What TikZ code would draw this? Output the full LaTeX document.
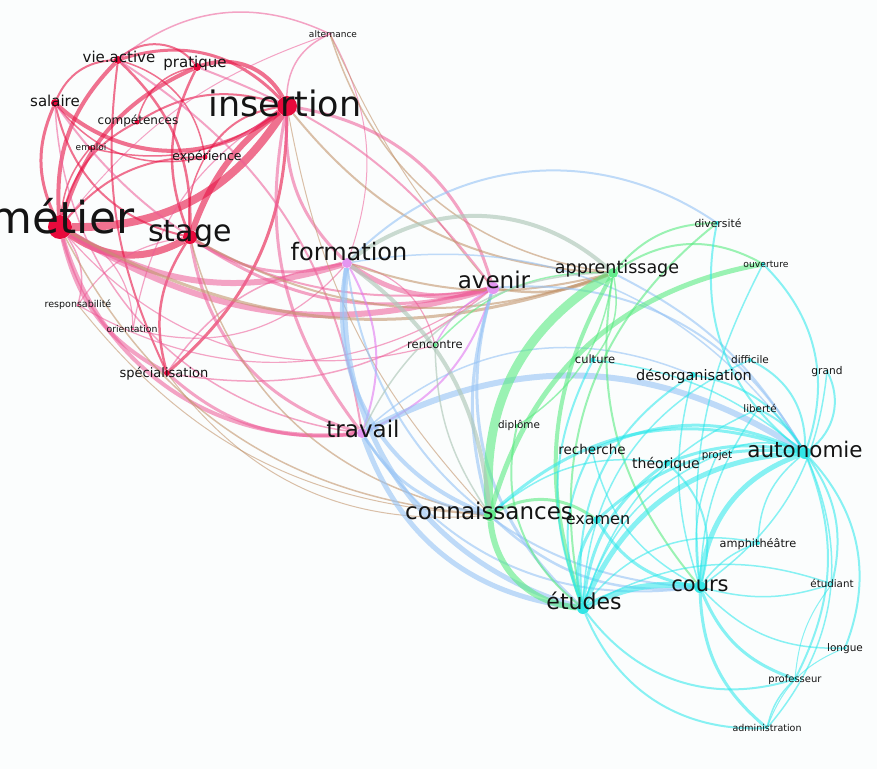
\documentclass[tikz,border=0pt]{standalone}
\usepackage{fontspec}
\setmainfont{DejaVu Sans}
\definecolor{cR}{RGB}{232,20,70}
\definecolor{cP}{RGB}{238,90,150}
\definecolor{cT}{RGB}{195,150,110}
\definecolor{cB}{RGB}{150,195,245}
\definecolor{cC}{RGB}{40,232,235}
\definecolor{cG}{RGB}{90,235,130}
\definecolor{cGG}{RGB}{175,200,185}
\definecolor{cV}{RGB}{225,120,240}
\definecolor{dR}{RGB}{232,10,60}
\definecolor{dV}{RGB}{228,150,240}
\definecolor{dG}{RGB}{100,235,140}
\definecolor{dC}{RGB}{50,230,230}
\definecolor{bgc}{RGB}{251,253,253}
\pgfdeclarelayer{bgl}\pgfdeclarelayer{edges}
\pgfsetlayers{bgl,edges,main}
\tikzset{
  eR/.style={draw=cR,draw opacity=.6},
  eP/.style={draw=cP,draw opacity=.55},
  eT/.style={draw=cT,draw opacity=.6},
  eB/.style={draw=cB,draw opacity=.6},
  eC/.style={draw=cC,draw opacity=.55},
  eG/.style={draw=cG,draw opacity=.6},
  eGG/.style={draw=cGG,draw opacity=.65},
  eV/.style={draw=cV,draw opacity=.6},
  dot/.style={circle,inner sep=0pt,minimum size=#1},
  lbl/.style={anchor=base,inner sep=0pt,text=black!92,font=\fontsize{#1}{#1}\selectfont}
}
\newcommand\gedge[5]{\pgfmathsetmacro\gbend{-1.6*(#5)}\draw[#1,line width=#2pt] (#3) to[bend left=\gbend] (#4);}
\begin{document}
\begin{tikzpicture}[x=1pt,y=-1pt]
\begin{pgfonlayer}{bgl}
\fill[bgc] (0,0) rectangle (877,769);
\end{pgfonlayer}
\useasboundingbox (0,0) rectangle (877,769);
% dots
\node[dot=24,fill=dR] (metier) at (60,227) {};
\node[dot=20,fill=dR] (insertion) at (287,106) {};
\node[dot=14,fill=dR] (stage) at (190,237) {};
\node[dot=8,fill=dR] (vieactive) at (118,60) {};
\node[dot=8,fill=dR] (pratique) at (197,67) {};
\node[dot=8,fill=dR] (salaire) at (55,103) {};
\node[dot=5,fill=dR] (competences) at (137,122) {};
\node[dot=4,fill=dR] (emploi) at (90,148) {};
\node[dot=5,fill=dR] (experience) at (205,157) {};
\node[dot=3,fill=cP] (alternance) at (330,34) {};
\node[dot=3,fill=cP] (responsabilite) at (78,305) {};
\node[dot=3,fill=cP] (orientation) at (133,329) {};
\node[dot=6,fill=dR] (specialisation) at (167,373) {};
\node[dot=10,fill=dV] (formation) at (347,263) {};
\node[dot=12,fill=dV] (avenir) at (493,288) {};
\node[dot=10,fill=dV] (travail) at (362,433) {};
\node[dot=4,fill=dG] (rencontre) at (435,345) {};
\node[dot=10,fill=dG] (apprentissage) at (613,273) {};
\node[dot=12,fill=dG] (connaissances) at (490,515) {};
\node[dot=4,fill=dG] (diplome) at (517,426) {};
\node[dot=4,fill=dC] (diversite) at (717,223) {};
\node[dot=4,fill=dC] (ouverture) at (763,264) {};
\node[dot=5,fill=dC] (culture) at (593,360) {};
\node[dot=6,fill=dC] (desorganisation) at (693,375) {};
\node[dot=4,fill=dC] (difficile) at (750,360) {};
\node[dot=3,fill=dC] (grand) at (827,371) {};
\node[dot=4,fill=dC] (liberte) at (758,409) {};
\node[dot=5,fill=dC] (recherche) at (592,450) {};
\node[dot=7,fill=dC] (theorique) at (667,463) {};
\node[dot=3,fill=dC] (projet) at (717,455) {};
\node[dot=12,fill=dC] (autonomie) at (805,453) {};
\node[dot=8,fill=dC] (examen) at (597,520) {};
\node[dot=4,fill=dC] (amphitheatre) at (758,543) {};
\node[dot=12,fill=dC] (cours) at (700,587) {};
\node[dot=3,fill=dC] (etudiant) at (832,584) {};
\node[dot=12,fill=dC] (etudes) at (583,608) {};
\node[dot=3,fill=dC] (longue) at (845,648) {};
\node[dot=4,fill=dC] (professeur) at (795,679) {};
\node[dot=3,fill=dC] (administration) at (767,728) {};
\begin{pgfonlayer}{edges}
% red cluster
\gedge{eR}{7}{metier}{stage}{20}
\gedge{eR}{8}{metier}{insertion}{18}
\gedge{eR}{6}{stage}{insertion}{-10}
\gedge{eR}{4}{vieactive}{metier}{15}
\gedge{eR}{4}{pratique}{metier}{15}
\gedge{eR}{3}{salaire}{metier}{15}
\gedge{eR}{3}{insertion}{vieactive}{20}
\gedge{eR}{4}{insertion}{pratique}{25}
\gedge{eR}{4}{salaire}{insertion}{25}
\gedge{eR}{2}{vieactive}{salaire}{20}
\gedge{eR}{2}{pratique}{vieactive}{30}
\gedge{eR}{2.5}{vieactive}{stage}{-15}
\gedge{eR}{2.5}{pratique}{stage}{15}
\gedge{eR}{2}{salaire}{stage}{20}
\gedge{eR}{2}{competences}{metier}{15}
\gedge{eR}{2}{competences}{insertion}{-15}
\gedge{eR}{1.5}{emploi}{insertion}{15}
\gedge{eR}{1.5}{emploi}{metier}{10}
\gedge{eR}{2}{experience}{insertion}{-15}
\gedge{eR}{2}{experience}{metier}{15}
\gedge{eR}{1.5}{experience}{stage}{10}
\gedge{eR}{1.5}{vieactive}{experience}{-20}
\gedge{eR}{1.5}{pratique}{competences}{20}
\gedge{eR}{1.5}{salaire}{experience}{20}
\gedge{eP}{1.5}{alternance}{vieactive}{20}
\gedge{eP}{1.5}{alternance}{insertion}{20}
\gedge{eP}{1}{alternance}{metier}{10}
\gedge{eP}{1}{alternance}{formation}{-15}
\gedge{eT}{1.5}{alternance}{apprentissage}{20}
\gedge{eT}{1}{alternance}{avenir}{5}
\gedge{eR}{3}{insertion}{specialisation}{-15}
\gedge{eR}{2.5}{stage}{specialisation}{15}
\gedge{eR}{2}{vieactive}{specialisation}{10}
\gedge{eP}{4}{metier}{specialisation}{15}
\gedge{eP}{4}{metier}{travail}{25}
\gedge{eP}{3}{specialisation}{travail}{15}
\gedge{eP}{3}{stage}{travail}{20}
\gedge{eP}{3}{insertion}{travail}{15}
\gedge{eP}{6}{metier}{formation}{15}
\gedge{eP}{6}{metier}{avenir}{15}
\gedge{eP}{3}{stage}{avenir}{15}
\gedge{eP}{3}{stage}{formation}{15}
\gedge{eP}{5}{formation}{avenir}{15}
\gedge{eP}{3}{insertion}{formation}{15}
\gedge{eP}{3}{insertion}{avenir}{-20}
\gedge{eP}{1.5}{responsabilite}{metier}{15}
\gedge{eP}{1.2}{responsabilite}{stage}{-15}
\gedge{eP}{1.2}{orientation}{metier}{20}
\gedge{eP}{1.2}{orientation}{insertion}{-15}
\gedge{eP}{1.2}{orientation}{formation}{20}
\gedge{eP}{1.2}{responsabilite}{avenir}{20}
\gedge{eP}{1.5}{specialisation}{formation}{-15}
\gedge{eP}{1.5}{specialisation}{avenir}{15}
\gedge{eP}{1.2}{rencontre}{formation}{20}
\gedge{eP}{1.2}{metier}{rencontre}{20}
\gedge{eP}{2}{vieactive}{travail}{-15}
\gedge{eP}{2}{pratique}{avenir}{-10}
\gedge{eP}{2}{salaire}{avenir}{20}
\gedge{eP}{1.5}{salaire}{travail}{25}
\gedge{eT}{3}{metier}{apprentissage}{15}
\gedge{eT}{2}{insertion}{apprentissage}{15}
\gedge{eT}{2}{stage}{apprentissage}{15}
\gedge{eT}{2}{formation}{apprentissage}{10}
\gedge{eT}{2.5}{avenir}{apprentissage}{10}
\gedge{eT}{1.5}{metier}{connaissances}{18}
\gedge{eT}{1.5}{stage}{connaissances}{20}
\gedge{eT}{1}{specialisation}{connaissances}{18}
\gedge{eT}{1}{insertion}{connaissances}{10}
\gedge{eT}{1}{responsabilite}{connaissances}{15}
\gedge{eV}{2}{travail}{avenir}{15}
\gedge{eV}{2}{formation}{travail}{-15}
\gedge{eV}{1.5}{avenir}{rencontre}{10}
% blue
\gedge{eB}{5}{formation}{etudes}{25}
\gedge{eB}{4}{formation}{connaissances}{25}
\gedge{eB}{5}{travail}{etudes}{20}
\gedge{eB}{3}{travail}{connaissances}{15}
\gedge{eB}{3}{avenir}{etudes}{20}
\gedge{eB}{3}{avenir}{connaissances}{10}
\gedge{eB}{6}{autonomie}{travail}{19}
\gedge{eB}{2}{diversite}{formation}{25}
\gedge{eB}{2}{avenir}{autonomie}{-20}
\gedge{eB}{2}{travail}{cours}{20}
\gedge{eB}{2.5}{connaissances}{cours}{15}
\gedge{eB}{2}{formation}{cours}{25}
\gedge{eB}{2}{apprentissage}{autonomie}{-10}
\gedge{eB}{1.5}{formation}{autonomie}{-20}
\gedge{eB}{1.5}{travail}{desorganisation}{-20}
% green
\gedge{eG}{9}{apprentissage}{connaissances}{20}
\gedge{eG}{6}{connaissances}{etudes}{25}
\gedge{eG}{4}{apprentissage}{etudes}{15}
\gedge{eG}{5}{connaissances}{ouverture}{-20}
\gedge{eG}{2}{apprentissage}{diversite}{-15}
\gedge{eG}{2}{etudes}{diversite}{-20}
\gedge{eG}{1.5}{rencontre}{apprentissage}{-15}
\gedge{eG}{1.5}{culture}{apprentissage}{15}
\gedge{eG}{1.5}{diplome}{apprentissage}{15}
\gedge{eG}{3}{connaissances}{examen}{-20}
\gedge{eG}{2}{diplome}{etudes}{20}
\gedge{eG}{2}{apprentissage}{cours}{15}
\gedge{eG}{2}{apprentissage}{ouverture}{-20}
\gedge{eGG}{4}{apprentissage}{formation}{25}
\gedge{eGG}{4}{connaissances}{formation}{15}
\gedge{eGG}{1.5}{rencontre}{connaissances}{10}
\gedge{eGG}{1.5}{travail}{apprentissage}{-20}
% cyan
\gedge{eC}{6}{etudes}{cours}{-10}
\gedge{eC}{5}{etudes}{autonomie}{-20}
\gedge{eC}{5}{cours}{autonomie}{-20}
\gedge{eC}{3}{theorique}{autonomie}{-10}
\gedge{eC}{3}{examen}{autonomie}{-15}
\gedge{eC}{3}{recherche}{autonomie}{-15}
\gedge{eC}{3}{connaissances}{autonomie}{-20}
\gedge{eC}{3}{etudes}{theorique}{-15}
\gedge{eC}{2}{cours}{theorique}{20}
\gedge{eC}{3}{examen}{etudes}{15}
\gedge{eC}{3}{examen}{cours}{15}
\gedge{eC}{2}{etudes}{administration}{22}
\gedge{eC}{2}{etudes}{professeur}{22}
\gedge{eC}{3}{cours}{administration}{15}
\gedge{eC}{3}{cours}{professeur}{15}
\gedge{eC}{1.5}{cours}{longue}{15}
\gedge{eC}{1.5}{cours}{etudiant}{10}
\gedge{eC}{2}{etudiant}{autonomie}{15}
\gedge{eC}{2}{longue}{autonomie}{20}
\gedge{eC}{2}{professeur}{autonomie}{15}
\gedge{eC}{1.5}{administration}{autonomie}{20}
\gedge{eC}{2}{autonomie}{grand}{25}
\gedge{eC}{2}{autonomie}{difficile}{20}
\gedge{eC}{2}{autonomie}{liberte}{10}
\gedge{eC}{2}{autonomie}{ouverture}{20}
\gedge{eC}{2}{diversite}{autonomie}{20}
\gedge{eC}{1.5}{ouverture}{cours}{10}
\gedge{eC}{2}{desorganisation}{autonomie}{-15}
\gedge{eC}{2}{desorganisation}{etudes}{20}
\gedge{eC}{1.5}{desorganisation}{cours}{10}
\gedge{eC}{2}{culture}{etudes}{15}
\gedge{eC}{1.5}{culture}{autonomie}{-10}
\gedge{eC}{2}{recherche}{etudes}{15}
\gedge{eC}{1.5}{recherche}{cours}{15}
\gedge{eC}{1.5}{projet}{autonomie}{-15}
\gedge{eC}{1.5}{projet}{etudes}{15}
\gedge{eC}{1.5}{projet}{cours}{10}
\gedge{eC}{1.5}{amphitheatre}{cours}{10}
\gedge{eC}{1.5}{etudes}{amphitheatre}{-20}
\gedge{eC}{1.5}{amphitheatre}{autonomie}{-15}
\gedge{eC}{1.5}{difficile}{etudes}{20}
\gedge{eC}{1.5}{grand}{cours}{-15}
\gedge{eC}{1.5}{liberte}{etudes}{15}
\gedge{eC}{1.5}{liberte}{cours}{10}
\gedge{eC}{1.5}{theorique}{connaissances}{15}
\gedge{eC}{1.5}{etudes}{etudiant}{-15}
\gedge{eC}{1.5}{professeur}{administration}{10}
\gedge{eC}{1}{longue}{administration}{15}
\gedge{eC}{1}{etudiant}{professeur}{10}
\end{pgfonlayer}
% labels
\node[lbl=44] (tmetier) at (62,233) {métier};
\node[lbl=35] (tinsertion) at (285,116) {insertion};
\node[lbl=30] (tstage) at (190,241) {stage};
\node[lbl=15] (tvieactive) at (119,62) {vie.active};
\node[lbl=15] (tpratique) at (195,67) {pratique};
\node[lbl=15] (tsalaire) at (55,106) {salaire};
\node[lbl=12] (tcompetences) at (138,124) {compétences};
\node[lbl=9] (temploi) at (91,150) {emploi};
\node[lbl=12.5] (texperience) at (207,160) {expérience};
\node[lbl=9] (talternance) at (333,37) {alternance};
\node[lbl=9.5] (tresponsabilite) at (78,307) {responsabilité};
\node[lbl=9.3] (torientation) at (132,332) {orientation};
\node[lbl=13] (tspecialisation) at (164,377) {spécialisation};
\node[lbl=24] (tformation) at (349,260) {formation};
\node[lbl=23] (tavenir) at (494,288) {avenir};
\node[lbl=23] (ttravail) at (363,437) {travail};
\node[lbl=11.5] (trencontre) at (435,348) {rencontre};
\node[lbl=17.5] (tapprentissage) at (617,273) {apprentissage};
\node[lbl=23] (tconnaissances) at (489,519) {connaissances};
\node[lbl=10.4] (tdiplome) at (519,428) {diplôme};
\node[lbl=10.8] (tdiversite) at (718,227) {diversité};
\node[lbl=9.2] (touverture) at (766,267) {ouverture};
\node[lbl=11.5] (tculture) at (595,363) {culture};
\node[lbl=14.5] (tdesorganisation) at (694,380) {désorganisation};
\node[lbl=10.5] (tdifficile) at (750,363) {difficile};
\node[lbl=10.6] (tgrand) at (827,374) {grand};
\node[lbl=10.3] (tliberte) at (760,412) {liberté};
\node[lbl=13.5] (trecherche) at (592,454) {recherche};
\node[lbl=14] (ttheorique) at (666,468) {théorique};
\node[lbl=10.4] (tprojet) at (717,458) {projet};
\node[lbl=21.5] (tautonomie) at (805,457) {autonomie};
\node[lbl=16] (texamen) at (598,524) {examen};
\node[lbl=11.3] (tamphitheatre) at (758,547) {amphithéâtre};
\node[lbl=21] (tcours) at (700,591) {cours};
\node[lbl=10.3] (tetudiant) at (832,587) {étudiant};
\node[lbl=22] (tetudes) at (584,609) {études};
\node[lbl=10.5] (tlongue) at (845,651) {longue};
\node[lbl=10] (tprofesseur) at (795,682) {professeur};
\node[lbl=9.5] (tadministration) at (767,731) {administration};
\end{tikzpicture}
\end{document}
